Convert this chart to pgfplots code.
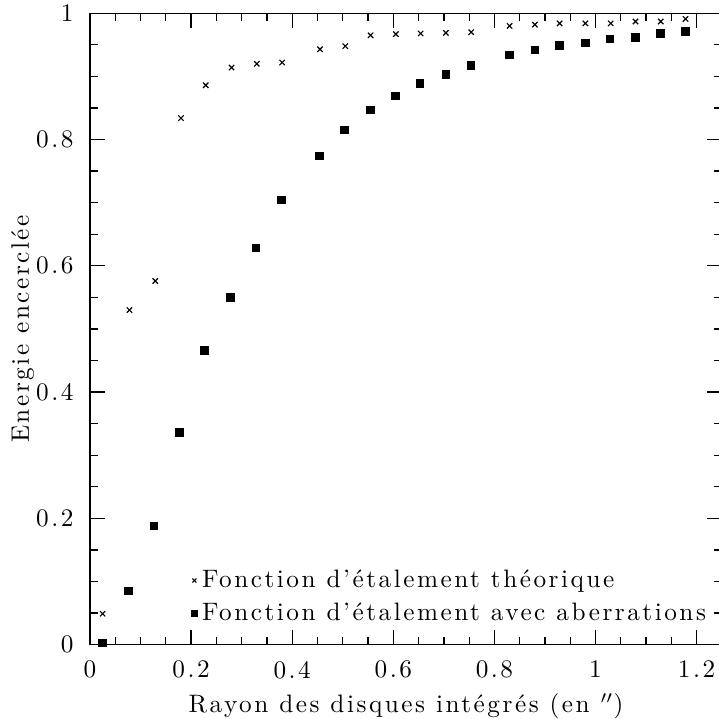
\documentclass[border=0pt]{standalone}
\usepackage{fontspec}
\setmainfont{Latin Modern Roman}[LetterSpace=10]
\usepackage{pgfplots}
\pgfplotsset{compat=1.18}

% theoretical PSF
\pgfplotstableread{
x y
0.025 0.049
0.078 0.530
0.129 0.576
0.180 0.834
0.229 0.886
0.280 0.914
0.330 0.920
0.380 0.922
0.455 0.943
0.505 0.948
0.555 0.965
0.605 0.967
0.654 0.968
0.704 0.969
0.754 0.970
0.830 0.980
0.880 0.982
0.929 0.984
0.980 0.984
1.030 0.984
1.079 0.987
1.129 0.987
1.178 0.991
}\theo

% PSF with aberrations
\pgfplotstableread{
x y
0.025 0.003
0.076 0.085
0.127 0.188
0.177 0.336
0.227 0.466
0.278 0.550
0.328 0.628
0.379 0.704
0.454 0.774
0.504 0.815
0.555 0.847
0.604 0.869
0.653 0.889
0.704 0.903
0.754 0.917
0.830 0.934
0.880 0.942
0.929 0.949
0.980 0.953
1.029 0.959
1.079 0.962
1.129 0.968
1.178 0.971
}\aber

\begin{document}
\begin{tikzpicture}
\begin{axis}[
    scale only axis,
    width=8.801cm, height=8.794cm,
    xmin=0, xmax=1.25,
    ymin=0, ymax=1,
    xtick={0,0.2,...,1.2},
    ytick={0,0.2,...,1},
    minor x tick num=3,
    minor y tick num=3,
    tick align=inside,
    major tick length=0.21cm,
    minor tick length=0.11cm,
    every tick/.style={black, line width=0.5pt},
    axis line style={line width=0.6pt},
    /pgf/number format/assume math mode=true,
    /pgf/number format/fixed,
    xticklabel style={yshift=-3pt},
    yticklabel style={xshift=-3pt},
    xlabel={Rayon des disques intégrés (en $''$)},
    ylabel={Energie encerclée},
    xlabel style={yshift=1pt},
    ylabel style={yshift=-6pt},
    legend style={at={(axis cs:0.2,0.028)}, anchor=south west,
        draw=none, fill=none, row sep=2.5pt,
        cells={anchor=west}, inner sep=0pt,
        nodes={inner xsep=2pt, inner ysep=1pt}},
    legend image code/.code={\draw[#1, mark size=1.1pt] plot coordinates {(0cm,0cm)};},
]
\addplot[only marks, mark=x, mark size=1.5pt, black, line width=0.45pt] table {\theo};
\addplot[only marks, mark=square*, mark size=1.5pt, black] table {\aber};
\legend{Fonction d'étalement théorique, Fonction d'étalement avec aberrations}
\end{axis}
\pgfresetboundingbox
\useasboundingbox ([xshift=-1.2535cm, yshift=-1.035cm]current axis.south west)
    rectangle ([xshift=-0.054cm, yshift=0.185cm]current axis.north east);
\end{tikzpicture}
\end{document}
